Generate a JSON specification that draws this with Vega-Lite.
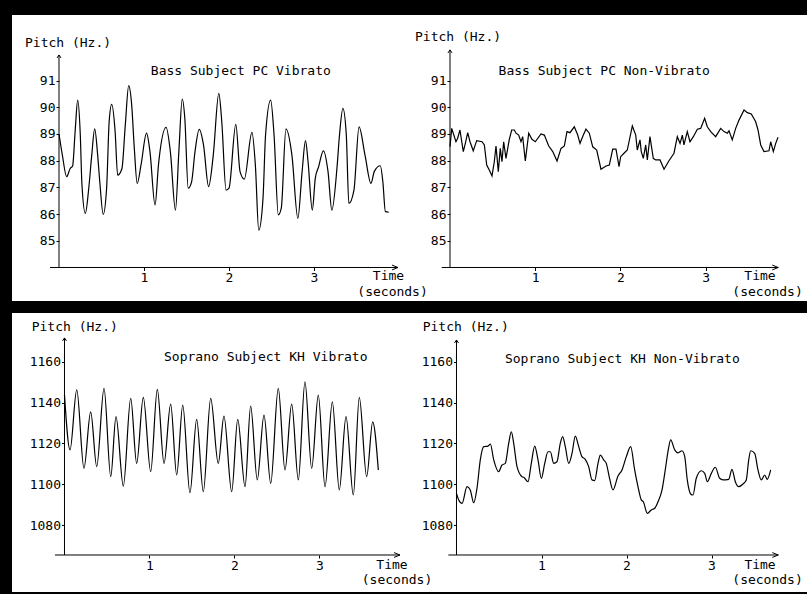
{
  "$schema": "https://vega.github.io/schema/vega-lite/v6.json",
  "background": "white",
  "padding": 0,
  "spacing": 0,
  "bounds": "flush",
  "columns": 3,
  "datasets": {
    "bassV": [
      {"t":0.0,"pitch":89.0},{"t":0.04,"pitch":88.2},{"t":0.09,"pitch":87.4},{"t":0.13,"pitch":87.7},{"t":0.16,"pitch":87.8},{"t":0.19,"pitch":89.1},{"t":0.22,"pitch":90.27},{"t":0.25,"pitch":89.0},{"t":0.27,"pitch":87.1},{"t":0.31,"pitch":86.03},{"t":0.35,"pitch":86.97},{"t":0.385,"pitch":88.2},{"t":0.42,"pitch":89.19},{"t":0.455,"pitch":88.2},{"t":0.48,"pitch":87.2},{"t":0.52,"pitch":85.99},{"t":0.56,"pitch":86.97},{"t":0.59,"pitch":89.46},{"t":0.62,"pitch":90.11},{"t":0.66,"pitch":89.1},{"t":0.69,"pitch":87.46},{"t":0.74,"pitch":87.7},{"t":0.78,"pitch":89.34},{"t":0.82,"pitch":90.81},{"t":0.855,"pitch":90.09},{"t":0.886,"pitch":88.46},{"t":0.92,"pitch":87.15},{"t":0.965,"pitch":87.84},{"t":1.03,"pitch":89.03},{"t":1.07,"pitch":88.34},{"t":1.13,"pitch":86.34},{"t":1.17,"pitch":87.84},{"t":1.26,"pitch":89.25},{"t":1.31,"pitch":88.34},{"t":1.37,"pitch":86.15},{"t":1.41,"pitch":88.34},{"t":1.45,"pitch":90.31},{"t":1.48,"pitch":89.59},{"t":1.52,"pitch":86.97},{"t":1.56,"pitch":87.21},{"t":1.6,"pitch":88.34},{"t":1.65,"pitch":89.17},{"t":1.7,"pitch":88.59},{"t":1.76,"pitch":87.03},{"t":1.815,"pitch":88.21},{"t":1.88,"pitch":90.52},{"t":1.915,"pitch":89.46},{"t":1.965,"pitch":86.9},{"t":2.0,"pitch":86.97},{"t":2.08,"pitch":89.36},{"t":2.13,"pitch":87.59},{"t":2.18,"pitch":87.31},{"t":2.27,"pitch":89.06},{"t":2.31,"pitch":87.84},{"t":2.35,"pitch":85.4},{"t":2.4,"pitch":86.59},{"t":2.43,"pitch":88.96},{"t":2.49,"pitch":90.27},{"t":2.53,"pitch":88.96},{"t":2.58,"pitch":85.97},{"t":2.615,"pitch":86.22},{"t":2.67,"pitch":89.19},{"t":2.74,"pitch":88.21},{"t":2.81,"pitch":85.84},{"t":2.86,"pitch":87.59},{"t":2.9,"pitch":88.75},{"t":2.93,"pitch":87.96},{"t":2.98,"pitch":86.15},{"t":3.015,"pitch":87.34},{"t":3.055,"pitch":87.78},{"t":3.11,"pitch":88.37},{"t":3.165,"pitch":87.59},{"t":3.21,"pitch":86.15},{"t":3.27,"pitch":87.72},{"t":3.3,"pitch":88.96},{"t":3.34,"pitch":89.96},{"t":3.38,"pitch":88.96},{"t":3.41,"pitch":86.4},{"t":3.47,"pitch":86.9},{"t":3.53,"pitch":89.27},{"t":3.6,"pitch":88.21},{"t":3.67,"pitch":87.15},{"t":3.71,"pitch":87.6},{"t":3.78,"pitch":87.81},{"t":3.81,"pitch":87.21},{"t":3.84,"pitch":86.09},{"t":3.88,"pitch":86.07}
    ],
    "bassNV": [
      {"t":0.0,"pitch":88.52},{"t":0.02,"pitch":89.21},{"t":0.07,"pitch":88.71},{"t":0.09,"pitch":88.84},{"t":0.117,"pitch":89.15},{"t":0.156,"pitch":88.34},{"t":0.18,"pitch":88.65},{"t":0.208,"pitch":89.05},{"t":0.235,"pitch":88.71},{"t":0.273,"pitch":88.37},{"t":0.313,"pitch":88.75},{"t":0.376,"pitch":88.71},{"t":0.403,"pitch":88.59},{"t":0.431,"pitch":87.84},{"t":0.461,"pitch":87.65},{"t":0.493,"pitch":87.43},{"t":0.52,"pitch":87.96},{"t":0.54,"pitch":88.55},{"t":0.567,"pitch":87.59},{"t":0.59,"pitch":88.46},{"t":0.61,"pitch":87.96},{"t":0.63,"pitch":88.71},{"t":0.657,"pitch":88.09},{"t":0.696,"pitch":88.8},{"t":0.724,"pitch":89.15},{"t":0.755,"pitch":89.15},{"t":0.775,"pitch":89.03},{"t":0.806,"pitch":88.96},{"t":0.833,"pitch":88.71},{"t":0.853,"pitch":88.9},{"t":0.884,"pitch":87.99},{"t":0.924,"pitch":89.03},{"t":0.962,"pitch":88.8},{"t":1.001,"pitch":88.71},{"t":1.068,"pitch":89.0},{"t":1.107,"pitch":88.96},{"t":1.159,"pitch":88.55},{"t":1.206,"pitch":88.34},{"t":1.256,"pitch":87.99},{"t":1.303,"pitch":88.46},{"t":1.342,"pitch":88.55},{"t":1.373,"pitch":89.09},{"t":1.408,"pitch":89.05},{"t":1.459,"pitch":89.27},{"t":1.499,"pitch":88.96},{"t":1.526,"pitch":88.65},{"t":1.565,"pitch":88.96},{"t":1.596,"pitch":89.18},{"t":1.635,"pitch":89.03},{"t":1.675,"pitch":88.52},{"t":1.722,"pitch":88.4},{"t":1.772,"pitch":87.68},{"t":1.831,"pitch":87.8},{"t":1.87,"pitch":87.84},{"t":1.91,"pitch":88.43},{"t":1.948,"pitch":88.43},{"t":1.984,"pitch":87.78},{"t":2.003,"pitch":88.15},{"t":2.042,"pitch":88.28},{"t":2.081,"pitch":88.4},{"t":2.14,"pitch":89.3},{"t":2.18,"pitch":88.96},{"t":2.198,"pitch":88.4},{"t":2.23,"pitch":88.78},{"t":2.245,"pitch":88.34},{"t":2.269,"pitch":88.09},{"t":2.297,"pitch":88.59},{"t":2.316,"pitch":88.03},{"t":2.347,"pitch":88.9},{"t":2.386,"pitch":88.09},{"t":2.414,"pitch":88.03},{"t":2.465,"pitch":88.03},{"t":2.512,"pitch":87.68},{"t":2.57,"pitch":88.0},{"t":2.629,"pitch":88.28},{"t":2.668,"pitch":88.9},{"t":2.7,"pitch":88.65},{"t":2.727,"pitch":88.96},{"t":2.746,"pitch":88.59},{"t":2.785,"pitch":89.09},{"t":2.817,"pitch":88.71},{"t":2.856,"pitch":88.9},{"t":2.903,"pitch":89.18},{"t":2.942,"pitch":89.21},{"t":2.989,"pitch":89.59},{"t":3.02,"pitch":89.27},{"t":3.06,"pitch":89.09},{"t":3.118,"pitch":88.9},{"t":3.177,"pitch":89.21},{"t":3.216,"pitch":89.09},{"t":3.255,"pitch":89.03},{"t":3.275,"pitch":89.12},{"t":3.313,"pitch":88.78},{"t":3.353,"pitch":89.21},{"t":3.392,"pitch":89.52},{"t":3.451,"pitch":89.9},{"t":3.49,"pitch":89.8},{"t":3.536,"pitch":89.75},{"t":3.588,"pitch":89.46},{"t":3.615,"pitch":89.15},{"t":3.647,"pitch":88.59},{"t":3.685,"pitch":88.34},{"t":3.744,"pitch":88.37},{"t":3.764,"pitch":88.71},{"t":3.795,"pitch":88.34},{"t":3.823,"pitch":88.65},{"t":3.85,"pitch":88.88}
    ],
    "sopV": [
      {"t":0.0,"pitch":1143.7},{"t":0.065,"pitch":1116.8},{"t":0.144,"pitch":1146.2},{"t":0.229,"pitch":1107.8},{"t":0.308,"pitch":1135.5},{"t":0.379,"pitch":1108.6},{"t":0.465,"pitch":1147.0},{"t":0.544,"pitch":1103.7},{"t":0.606,"pitch":1133.1},{"t":0.692,"pitch":1099.1},{"t":0.779,"pitch":1142.1},{"t":0.849,"pitch":1110.2},{"t":0.927,"pitch":1142.6},{"t":1.014,"pitch":1106.1},{"t":1.092,"pitch":1146.5},{"t":1.171,"pitch":1110.2},{"t":1.249,"pitch":1139.3},{"t":1.32,"pitch":1104.5},{"t":1.391,"pitch":1138.8},{"t":1.476,"pitch":1095.8},{"t":1.555,"pitch":1131.8},{"t":1.633,"pitch":1096.3},{"t":1.72,"pitch":1142.1},{"t":1.809,"pitch":1110.2},{"t":1.876,"pitch":1133.4},{"t":1.967,"pitch":1096.3},{"t":2.038,"pitch":1131.8},{"t":2.124,"pitch":1098.8},{"t":2.19,"pitch":1138.3},{"t":2.268,"pitch":1102.1},{"t":2.347,"pitch":1133.9},{"t":2.426,"pitch":1100.4},{"t":2.515,"pitch":1147.0},{"t":2.594,"pitch":1107.0},{"t":2.673,"pitch":1139.3},{"t":2.751,"pitch":1102.1},{"t":2.829,"pitch":1150.2},{"t":2.908,"pitch":1107.8},{"t":2.986,"pitch":1143.7},{"t":3.065,"pitch":1098.8},{"t":3.151,"pitch":1140.4},{"t":3.233,"pitch":1097.2},{"t":3.312,"pitch":1133.1},{"t":3.398,"pitch":1094.7},{"t":3.468,"pitch":1142.6},{"t":3.555,"pitch":1103.7},{"t":3.626,"pitch":1130.6},{"t":3.692,"pitch":1107.0}
    ],
    "sopNV": [
      {"t":0.0,"pitch":1095.5},{"t":0.026,"pitch":1092.3},{"t":0.065,"pitch":1090.6},{"t":0.124,"pitch":1098.8},{"t":0.162,"pitch":1097.2},{"t":0.202,"pitch":1090.9},{"t":0.241,"pitch":1098.0},{"t":0.28,"pitch":1111.9},{"t":0.32,"pitch":1118.4},{"t":0.371,"pitch":1118.7},{"t":0.398,"pitch":1119.7},{"t":0.438,"pitch":1111.9},{"t":0.496,"pitch":1106.1},{"t":0.535,"pitch":1109.4},{"t":0.574,"pitch":1110.2},{"t":0.614,"pitch":1120.0},{"t":0.645,"pitch":1125.7},{"t":0.673,"pitch":1120.0},{"t":0.712,"pitch":1108.6},{"t":0.771,"pitch":1103.7},{"t":0.791,"pitch":1103.4},{"t":0.841,"pitch":1101.2},{"t":0.88,"pitch":1110.2},{"t":0.92,"pitch":1118.7},{"t":0.959,"pitch":1111.9},{"t":0.998,"pitch":1102.9},{"t":1.038,"pitch":1110.2},{"t":1.076,"pitch":1115.9},{"t":1.104,"pitch":1115.9},{"t":1.144,"pitch":1110.2},{"t":1.182,"pitch":1111.0},{"t":1.221,"pitch":1120.0},{"t":1.249,"pitch":1123.3},{"t":1.28,"pitch":1118.4},{"t":1.32,"pitch":1110.2},{"t":1.359,"pitch":1115.1},{"t":1.398,"pitch":1123.6},{"t":1.438,"pitch":1118.4},{"t":1.476,"pitch":1113.5},{"t":1.515,"pitch":1112.2},{"t":1.555,"pitch":1108.6},{"t":1.594,"pitch":1102.1},{"t":1.625,"pitch":1101.8},{"t":1.665,"pitch":1110.2},{"t":1.692,"pitch":1114.3},{"t":1.731,"pitch":1111.9},{"t":1.762,"pitch":1110.2},{"t":1.8,"pitch":1103.0},{"t":1.841,"pitch":1097.2},{"t":1.9,"pitch":1104.0},{"t":1.947,"pitch":1107.0},{"t":1.998,"pitch":1113.5},{"t":2.049,"pitch":1118.4},{"t":2.096,"pitch":1107.0},{"t":2.135,"pitch":1098.8},{"t":2.174,"pitch":1092.3},{"t":2.198,"pitch":1091.4},{"t":2.245,"pitch":1085.7},{"t":2.292,"pitch":1087.4},{"t":2.332,"pitch":1088.2},{"t":2.371,"pitch":1091.4},{"t":2.418,"pitch":1097.2},{"t":2.456,"pitch":1107.0},{"t":2.488,"pitch":1116.0},{"t":2.52,"pitch":1121.7},{"t":2.567,"pitch":1116.8},{"t":2.606,"pitch":1115.4},{"t":2.653,"pitch":1116.4},{"t":2.685,"pitch":1113.5},{"t":2.715,"pitch":1102.1},{"t":2.755,"pitch":1095.2},{"t":2.782,"pitch":1094.7},{"t":2.821,"pitch":1102.9},{"t":2.88,"pitch":1106.6},{"t":2.92,"pitch":1105.3},{"t":2.951,"pitch":1101.2},{"t":2.998,"pitch":1105.3},{"t":3.045,"pitch":1108.3},{"t":3.096,"pitch":1102.9},{"t":3.135,"pitch":1102.1},{"t":3.202,"pitch":1102.4},{"t":3.241,"pitch":1107.3},{"t":3.28,"pitch":1101.2},{"t":3.32,"pitch":1098.8},{"t":3.371,"pitch":1100.1},{"t":3.409,"pitch":1102.1},{"t":3.438,"pitch":1111.9},{"t":3.461,"pitch":1116.4},{"t":3.508,"pitch":1115.1},{"t":3.547,"pitch":1107.0},{"t":3.586,"pitch":1102.1},{"t":3.626,"pitch":1104.5},{"t":3.656,"pitch":1102.4},{"t":3.696,"pitch":1107.0}
    ]
  },
  "concat": [
    {"width": 12, "height": 15, "data": {"values": []}, "mark": "point", "encoding": {}, "view": {"fill": "black", "stroke": null}},
    {"width": 391, "height": 15, "data": {"values": []}, "mark": "point", "encoding": {}, "view": {"fill": "black", "stroke": null}},
    {"width": 404, "height": 15, "data": {"values": []}, "mark": "point", "encoding": {}, "view": {"fill": "black", "stroke": null}},
    {"width": 12, "height": 286, "data": {"values": []}, "mark": "point", "encoding": {}, "view": {"fill": "black", "stroke": null}},
    {
      "width": 391, "height": 286,
      "layer": [
        {"data": {"name": "bassV"}, "mark": {"type": "line", "color": "black", "strokeWidth": 1.2, "interpolate": "monotone"},
         "encoding": {
           "x": {"field": "t", "type": "quantitative", "scale": {"domain": [-0.553, 4.047], "nice": false, "zero": false}, "axis": {"orient": "bottom", "values": [1,2,3], "format": "d", "offset": -33.5, "title": null}},
           "y": {"field": "pitch", "type": "quantitative", "scale": {"domain": [82.745, 93.457], "nice": false, "zero": false}, "axis": {"orient": "left", "values": [85,86,87,88,89,90,91], "format": "d", "offset": -47, "title": null}}
         }},
        {"data": {"values": [{}]}, "mark": {"type": "rule", "color": "black", "strokeWidth": 1}, "encoding": {"x": {"datum": 0}, "y": {"datum": 84}, "y2": {"datum": 91.96}}},
        {"data": {"values": [{}]}, "mark": {"type": "rule", "color": "black", "strokeWidth": 1}, "encoding": {"x": {"datum": -0.106}, "x2": {"datum": 3.988}, "y": {"datum": 84}}},
        {"data": {"values": [{}]}, "mark": {"type": "point", "shape": "M-1,1.5L0,0L1,1.5", "size": 16, "filled": false, "stroke": "black", "strokeWidth": 1, "opacity": 1}, "encoding": {"x": {"datum": 0}, "y": {"datum": 91.96}}},
        {"data": {"values": [{}]}, "mark": {"type": "point", "shape": "M-3,-1.2L0,0L-3,1.2", "size": 16, "filled": false, "stroke": "black", "strokeWidth": 1, "opacity": 1}, "encoding": {"x": {"datum": 3.988}, "y": {"datum": 84}}},
        {"data": {"values": [{"label": "Pitch (Hz.)"}]}, "mark": {"type": "text", "align": "left", "baseline": "middle"}, "encoding": {"x": {"datum": -0.4}, "y": {"datum": 92.4}, "text": {"field": "label"}}},
        {"data": {"values": [{"label": "Bass Subject PC Vibrato"}]}, "mark": {"type": "text", "align": "center", "baseline": "middle"}, "encoding": {"x": {"datum": 2.139}, "y": {"datum": 91.37}, "text": {"field": "label"}}},
        {"data": {"values": [{"label": "Time"}]}, "mark": {"type": "text", "align": "center", "baseline": "middle"}, "encoding": {"x": {"datum": 3.876}, "y": {"datum": 83.67}, "text": {"field": "label"}}},
        {"data": {"values": [{"label": "(seconds)"}]}, "mark": {"type": "text", "align": "center", "baseline": "middle"}, "encoding": {"x": {"datum": 3.924}, "y": {"datum": 83.1}, "text": {"field": "label"}}}
      ]
    },
    {
      "width": 404, "height": 286,
      "layer": [
        {"data": {"name": "bassNV"}, "mark": {"type": "line", "color": "black", "strokeWidth": 1.2},
         "encoding": {
           "x": {"field": "t", "type": "quantitative", "scale": {"domain": [-0.5516, 4.1901], "nice": false, "zero": false}, "axis": {"orient": "bottom", "values": [1,2,3], "format": "d", "offset": -33.5, "title": null}},
           "y": {"field": "pitch", "type": "quantitative", "scale": {"domain": [82.745, 93.457], "nice": false, "zero": false}, "axis": {"orient": "left", "values": [85,86,87,88,89,90,91], "format": "d", "offset": -47, "title": null}}
         }},
        {"data": {"values": [{}]}, "mark": {"type": "rule", "color": "black", "strokeWidth": 1}, "encoding": {"x": {"datum": 0}, "y": {"datum": 84}, "y2": {"datum": 92.15}}},
        {"data": {"values": [{}]}, "mark": {"type": "rule", "color": "black", "strokeWidth": 1}, "encoding": {"x": {"datum": -0.097}, "x2": {"datum": 3.853}, "y": {"datum": 84}}},
        {"data": {"values": [{}]}, "mark": {"type": "point", "shape": "M-1,1.5L0,0L1,1.5", "size": 16, "filled": false, "stroke": "black", "strokeWidth": 1, "opacity": 1}, "encoding": {"x": {"datum": 0}, "y": {"datum": 92.15}}},
        {"data": {"values": [{}]}, "mark": {"type": "point", "shape": "M-3,-1.2L0,0L-3,1.2", "size": 16, "filled": false, "stroke": "black", "strokeWidth": 1, "opacity": 1}, "encoding": {"x": {"datum": 3.853}, "y": {"datum": 84}}},
        {"data": {"values": [{"label": "Pitch (Hz.)"}]}, "mark": {"type": "text", "align": "left", "baseline": "middle"}, "encoding": {"x": {"datum": -0.411}, "y": {"datum": 92.644}, "text": {"field": "label"}}},
        {"data": {"values": [{"label": "Bass Subject PC Non-Vibrato"}]}, "mark": {"type": "text", "align": "center", "baseline": "middle"}, "encoding": {"x": {"datum": 1.81}, "y": {"datum": 91.37}, "text": {"field": "label"}}},
        {"data": {"values": [{"label": "Time"}]}, "mark": {"type": "text", "align": "center", "baseline": "middle"}, "encoding": {"x": {"datum": 3.638}, "y": {"datum": 83.67}, "text": {"field": "label"}}},
        {"data": {"values": [{"label": "(seconds)"}]}, "mark": {"type": "text", "align": "center", "baseline": "middle"}, "encoding": {"x": {"datum": 3.727}, "y": {"datum": 83.09}, "text": {"field": "label"}}}
      ]
    },
    {"width": 12, "height": 12, "data": {"values": []}, "mark": "point", "encoding": {}, "view": {"fill": "black", "stroke": null}},
    {"width": 391, "height": 12, "data": {"values": []}, "mark": "point", "encoding": {}, "view": {"fill": "black", "stroke": null}},
    {"width": 404, "height": 12, "data": {"values": []}, "mark": "point", "encoding": {}, "view": {"fill": "black", "stroke": null}},
    {"width": 12, "height": 279, "data": {"values": []}, "mark": "point", "encoding": {}, "view": {"fill": "black", "stroke": null}},
    {
      "width": 391, "height": 279,
      "layer": [
        {"data": {"name": "sopV"}, "mark": {"type": "line", "color": "black", "strokeWidth": 1.2, "interpolate": "monotone"},
         "encoding": {
           "x": {"field": "t", "type": "quantitative", "scale": {"domain": [-0.6176, 3.9824], "nice": false, "zero": false}, "axis": {"orient": "bottom", "values": [1,2,3], "format": "d", "offset": -37, "title": null}},
           "y": {"field": "pitch", "type": "quantitative", "scale": {"domain": [1047.16, 1183.92], "nice": false, "zero": false}, "axis": {"orient": "left", "values": [1080,1100,1120,1140,1160], "format": "d", "offset": -52.5, "title": null}}
         }},
        {"data": {"values": [{}]}, "mark": {"type": "rule", "color": "black", "strokeWidth": 1}, "encoding": {"x": {"datum": 0}, "y": {"datum": 1065.3}, "y2": {"datum": 1171.7}}},
        {"data": {"values": [{}]}, "mark": {"type": "rule", "color": "black", "strokeWidth": 1}, "encoding": {"x": {"datum": -0.112}, "x2": {"datum": 3.947}, "y": {"datum": 1065.3}}},
        {"data": {"values": [{}]}, "mark": {"type": "point", "shape": "M-1,1.5L0,0L1,1.5", "size": 16, "filled": false, "stroke": "black", "strokeWidth": 1, "opacity": 1}, "encoding": {"x": {"datum": 0}, "y": {"datum": 1171.7}}},
        {"data": {"values": [{}]}, "mark": {"type": "point", "shape": "M-3,-1.2L0,0L-3,1.2", "size": 16, "filled": false, "stroke": "black", "strokeWidth": 1, "opacity": 1}, "encoding": {"x": {"datum": 3.947}, "y": {"datum": 1065.3}}},
        {"data": {"values": [{"label": "Pitch (Hz.)"}]}, "mark": {"type": "text", "align": "left", "baseline": "middle"}, "encoding": {"x": {"datum": -0.386}, "y": {"datum": 1177.2}, "text": {"field": "label"}}},
        {"data": {"values": [{"label": "Soprano Subject KH Vibrato"}]}, "mark": {"type": "text", "align": "center", "baseline": "middle"}, "encoding": {"x": {"datum": 2.368}, "y": {"datum": 1162.5}, "text": {"field": "label"}}},
        {"data": {"values": [{"label": "Time"}]}, "mark": {"type": "text", "align": "center", "baseline": "middle"}, "encoding": {"x": {"datum": 3.853}, "y": {"datum": 1060.2}, "text": {"field": "label"}}},
        {"data": {"values": [{"label": "(seconds)"}]}, "mark": {"type": "text", "align": "center", "baseline": "middle"}, "encoding": {"x": {"datum": 3.912}, "y": {"datum": 1052.8}, "text": {"field": "label"}}}
      ]
    },
    {
      "width": 404, "height": 279,
      "layer": [
        {"data": {"name": "sopNV"}, "mark": {"type": "line", "color": "black", "strokeWidth": 1.2, "interpolate": "monotone"},
         "encoding": {
           "x": {"field": "t", "type": "quantitative", "scale": {"domain": [-0.6294, 4.1235], "nice": false, "zero": false}, "axis": {"orient": "bottom", "values": [1,2,3], "format": "d", "offset": -37, "title": null}},
           "y": {"field": "pitch", "type": "quantitative", "scale": {"domain": [1047.16, 1183.92], "nice": false, "zero": false}, "axis": {"orient": "left", "values": [1080,1100,1120,1140,1160], "format": "d", "offset": -53.5, "title": null}}
         }},
        {"data": {"values": [{}]}, "mark": {"type": "rule", "color": "black", "strokeWidth": 1}, "encoding": {"x": {"datum": 0}, "y": {"datum": 1065.3}, "y2": {"datum": 1170.7}}},
        {"data": {"values": [{}]}, "mark": {"type": "rule", "color": "black", "strokeWidth": 1}, "encoding": {"x": {"datum": -0.096}, "x2": {"datum": 3.786}, "y": {"datum": 1065.3}}},
        {"data": {"values": [{}]}, "mark": {"type": "point", "shape": "M-1,1.5L0,0L1,1.5", "size": 16, "filled": false, "stroke": "black", "strokeWidth": 1, "opacity": 1}, "encoding": {"x": {"datum": 0}, "y": {"datum": 1170.7}}},
        {"data": {"values": [{}]}, "mark": {"type": "point", "shape": "M-3,-1.2L0,0L-3,1.2", "size": 16, "filled": false, "stroke": "black", "strokeWidth": 1, "opacity": 1}, "encoding": {"x": {"datum": 3.786}, "y": {"datum": 1065.3}}},
        {"data": {"values": [{"label": "Pitch (Hz.)"}]}, "mark": {"type": "text", "align": "left", "baseline": "middle"}, "encoding": {"x": {"datum": -0.398}, "y": {"datum": 1176.9}, "text": {"field": "label"}}},
        {"data": {"values": [{"label": "Soprano Subject KH Non-Vibrato"}]}, "mark": {"type": "text", "align": "center", "baseline": "middle"}, "encoding": {"x": {"datum": 1.951}, "y": {"datum": 1161.2}, "text": {"field": "label"}}},
        {"data": {"values": [{"label": "Time"}]}, "mark": {"type": "text", "align": "center", "baseline": "middle"}, "encoding": {"x": {"datum": 3.571}, "y": {"datum": 1060.2}, "text": {"field": "label"}}},
        {"data": {"values": [{"label": "(seconds)"}]}, "mark": {"type": "text", "align": "center", "baseline": "middle"}, "encoding": {"x": {"datum": 3.659}, "y": {"datum": 1052.8}, "text": {"field": "label"}}}
      ]
    },
    {"width": 12, "height": 2, "data": {"values": []}, "mark": "point", "encoding": {}, "view": {"fill": "black", "stroke": null}},
    {"width": 391, "height": 2, "data": {"values": []}, "mark": "point", "encoding": {}, "view": {"fill": "black", "stroke": null}},
    {"width": 404, "height": 2, "data": {"values": []}, "mark": "point", "encoding": {}, "view": {"fill": "black", "stroke": null}}
  ],
  "config": {
    "view": {"stroke": null},
    "axis": {"grid": false, "domain": false, "ticks": true, "tickColor": "black", "tickSize": 3, "tickWidth": 1, "labelColor": "black", "labelFont": "DejaVu Sans Mono", "labelFontSize": 13, "labelPadding": 1},
    "text": {"font": "DejaVu Sans Mono", "fontSize": 13, "color": "black"}
  }
}
